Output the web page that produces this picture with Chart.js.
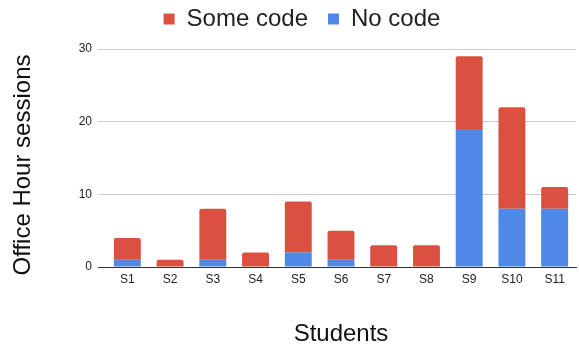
<!DOCTYPE html>
<html>
<head>
<meta charset="utf-8">
<script src="https://cdn.jsdelivr.net/npm/chart.js@4/dist/chart.umd.min.js"></script>
<style>
  html, body { margin: 0; padding: 0; background: #ffffff; }
  #wrap { width: 579px; height: 349px; position: relative; }
</style>
</head>
<body>
<div id="wrap"><canvas id="c" width="579" height="349"></canvas></div>
<script>
// Office hour sessions per student, split by whether code was involved
const students = ["S1", "S2", "S3", "S4", "S5", "S6", "S7", "S8", "S9", "S10", "S11"];
const noCode   = [1, 0, 1, 0, 2, 1, 0, 0, 19, 8, 8];
const someCode = [3, 1, 7, 2, 7, 4, 3, 3, 10, 14, 3];
const yTicks   = [0, 10, 20, 30];

const RED = "#db5040";
const BLUE = "#5088e8";
const FONT = "'Liberation Sans', Arial, sans-serif";

// Small layout tweaks: fixed legend height, nudged legend and y-axis title
const layoutTweaks = {
  id: "layoutTweaks",
  afterInit(chart) {
    const legend = chart.legend;
    const fit = legend.fit;
    legend.fit = function () {
      fit.call(this);
      this.height = 49;
    };
    const draw = legend.draw;
    legend.draw = function () {
      const ctx = this.ctx;
      ctx.save();
      ctx.translate(14, -13);
      draw.call(this);
      ctx.restore();
    };
  },
  beforeDraw(chart) {
    const y = chart.scales.y;
    if (!y._titleShifted) {
      const drawTitle = y.drawTitle;
      y.drawTitle = function () {
        const ctx = this.ctx;
        ctx.save();
        ctx.translate(1, 7);
        drawTitle.apply(this, arguments);
        ctx.restore();
      };
      y._titleShifted = true;
    }
  }
};

new Chart(document.getElementById("c"), {
  type: "bar",
  data: {
    labels: students,
    datasets: [
      {
        label: "No code",
        data: noCode,
        backgroundColor: BLUE,
        borderWidth: 0,
        barPercentage: 0.63,
        categoryPercentage: 1
      },
      {
        label: "Some code",
        data: someCode,
        backgroundColor: RED,
        borderWidth: 0,
        borderRadius: { topLeft: 2, topRight: 2, bottomLeft: 0, bottomRight: 0 },
        borderSkipped: "start",
        barPercentage: 0.63,
        categoryPercentage: 1
      }
    ]
  },
  plugins: [layoutTweaks],
  options: {
    responsive: false,
    animation: false,
    devicePixelRatio: 1,
    layout: { padding: { left: 0, right: 3, top: 0, bottom: 0 } },
    plugins: {
      tooltip: { enabled: false },
      legend: {
        position: "top",
        reverse: true,
        labels: {
          color: "#222222",
          font: { family: FONT, size: 24 },
          boxWidth: 11,
          boxHeight: 11,
          padding: 20
        }
      }
    },
    scales: {
      x: {
        stacked: true,
        grid: { display: false, drawTicks: false },
        border: { display: true, color: "#333333", width: 1 },
        ticks: { color: "#222222", font: { family: FONT, size: 12 }, padding: 5 },
        title: {
          display: true,
          text: "Students",
          color: "#111111",
          font: { family: FONT, size: 24 },
          padding: { top: 0, bottom: 0 }
        },
        afterFit: (s) => { s.height = 82; }
      },
      y: {
        stacked: true,
        min: 0,
        max: 30,
        afterBuildTicks: (s) => { s.ticks = yTicks.map(v => ({ value: v })); },
        grid: {
          color: (ctx) => (ctx.tick && ctx.tick.value === 0 ? "#333333" : "#cccccc"),
          lineWidth: 1,
          drawTicks: true,
          tickLength: 8
        },
        border: { display: false },
        ticks: { color: "#222222", font: { family: FONT, size: 12 }, padding: 6 },
        title: {
          display: true,
          text: "Office Hour sessions",
          color: "#111111",
          font: { family: FONT, size: 24 },
          padding: { top: 8, bottom: 0 }
        },
        afterFit: (s) => { s.width = 106; }
      }
    }
  }
});
</script>
</body>
</html>
